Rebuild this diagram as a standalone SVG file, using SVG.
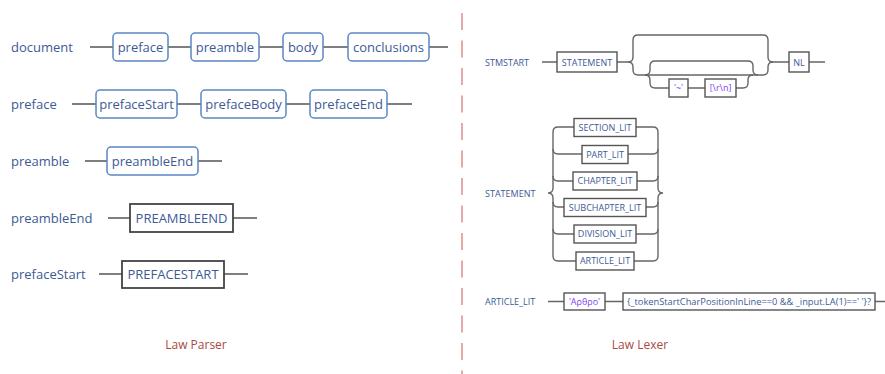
<svg xmlns="http://www.w3.org/2000/svg" width="885" height="374" viewBox="0 0 885 374">
<style>
.bg{fill:#ffffff}
.lbl{font-family:"Open Sans","Liberation Sans",sans-serif;font-size:13px;fill:#3d5a95}
.lbs{font-family:"Open Sans","Liberation Sans",sans-serif;font-size:9px;fill:#3d5a95}
.t{font-family:"Open Sans","Liberation Sans",sans-serif;font-size:13px;fill:#3d5a95;text-anchor:middle}
.ts{font-family:"Open Sans","Liberation Sans",sans-serif;font-size:9px;fill:#3d5a95;text-anchor:middle}
.tp{font-family:"Open Sans","Liberation Sans",sans-serif;font-size:9px;fill:#7a3ff0;text-anchor:middle}
.nt{fill:#ffffff;stroke:#5b87c5;stroke-width:1.5}
.tm{fill:#ffffff;stroke:#444444;stroke-width:1.8}
.tms{fill:#ffffff;stroke:#555555;stroke-width:1.4}
.ln{fill:none;stroke:#555555;stroke-width:1.6}
.lns{fill:none;stroke:#666666;stroke-width:1.4}
.cap{font-family:"Open Sans","Liberation Sans",sans-serif;font-size:12px;fill:#a94a42;text-anchor:middle}
</style>
<rect class="bg" x="0" y="0" width="885" height="374"/>
<line x1="462" y1="13" x2="462" y2="374" stroke="#e08c8c" stroke-width="1.5" stroke-dasharray="17 10.5"/>
<g id="connectors">
  <path class="ln" d="M90,47H113M168,47H191M259,47H283M323,47H348M429,47H448"/>
  <path class="ln" d="M72,104H96M177,104H201M286,104H310M387,104H412"/>
  <path class="ln" d="M85,161H107M198,161H222"/>
  <path class="ln" d="M108,218H130M233,218H257"/>
  <path class="ln" d="M99,274H122M224,274H248"/>
  <path class="lns" d="M542,62H557M617,62H628M789,62H773M809,62H825"/>
  <path class="lns" d="M628,62Q633,62 633,57V40Q633,35 638,35H763Q768,35 768,40V57Q768,62 773,62"/>
  <path class="lns" d="M628,62Q633,62 633,67V70Q633,75 638,75H763Q768,75 768,70V67Q768,62 773,62"/>
  <path class="lns" d="M645,75Q650,75 650,70V66Q650,61 655,61H748Q753,61 753,66V70Q753,75 758,75"/>
  <path class="lns" d="M645,75Q650,75 650,80V83Q650,88 655,88H669M688,88H705M736,88H743Q748,88 748,83V80Q748,75 753,75"/>
  <path class="lns" d="M548,193Q553,193 553,188V132Q553,127 558,127H574M548,193Q553,193 553,198V256Q553,261 558,261H576"/>
  <path class="lns" d="M553,149Q553,154 558,154H582M553,176Q553,181 558,181H573M553,202Q553,207 558,207H564M553,229Q553,234 558,234H574"/>
  <path class="lns" d="M663,193Q658,193 658,188V132Q658,127 653,127H636M663,193Q658,193 658,198V256Q658,261 653,261H634"/>
  <path class="lns" d="M658,149Q658,154 653,154H628M658,176Q658,181 653,181H637M658,202Q658,207 653,207H646M658,229Q658,234 653,234H636"/>
  <path class="lns" d="M548,301.5H564M605,301.5H623M875,301.5H885"/>
</g>
<g id="document">
  <text class="lbl" x="11" y="52">document</text>
  <rect class="nt" x="113" y="33" width="55" height="28" rx="4"/><text class="t" x="140.5" y="52">preface</text>
  <rect class="nt" x="191" y="33" width="68" height="28" rx="4"/><text class="t" x="225" y="52">preamble</text>
  <rect class="nt" x="283" y="33" width="40" height="28" rx="4"/><text class="t" x="303" y="52">body</text>
  <rect class="nt" x="348" y="33" width="81" height="28" rx="4"/><text class="t" x="388.5" y="52">conclusions</text>
</g>
<g id="preface">
  <text class="lbl" x="11" y="109">preface</text>
  <rect class="nt" x="96" y="90" width="81" height="28" rx="4"/><text class="t" x="136.5" y="109">prefaceStart</text>
  <rect class="nt" x="201" y="90" width="85" height="28" rx="4"/><text class="t" x="243.5" y="109">prefaceBody</text>
  <rect class="nt" x="310" y="90" width="77" height="28" rx="4"/><text class="t" x="348.5" y="109">prefaceEnd</text>
</g>
<g id="preamble">
  <text class="lbl" x="11" y="166">preamble</text>
  <rect class="nt" x="107" y="147" width="91" height="28" rx="4"/><text class="t" x="152.5" y="166">preambleEnd</text>
</g>
<g id="preambleEnd">
  <text class="lbl" x="11" y="223">preambleEnd</text>
  <rect class="tm" x="130" y="204" width="103" height="28"/><text class="t" x="181.5" y="223">PREAMBLEEND</text>
</g>
<g id="prefaceStart">
  <text class="lbl" x="11" y="279">prefaceStart</text>
  <rect class="tm" x="122" y="261" width="102" height="27"/><text class="t" x="173" y="279">PREFACESTART</text>
</g>
<g id="stmstart">
  <text class="lbs" x="485" y="65.5">STMSTART</text>
  <rect class="tms" x="557" y="52" width="60" height="20"/><text class="ts" x="587" y="65.5">STATEMENT</text>
  <rect class="tms" x="669" y="79" width="19" height="18"/><text class="tp" x="678.5" y="91">'~'</text>
  <rect class="tms" x="705" y="79" width="31" height="18"/><text class="tp" x="720.5" y="91">[\r\n]</text>
  <rect class="tms" x="789" y="52" width="20" height="20"/><text class="ts" x="799" y="65.5">NL</text>
</g>
<g id="statement">
  <text class="lbs" x="485" y="196.5">STATEMENT</text>
  <rect class="tms" x="574" y="118.5" width="62" height="18"/><text class="ts" x="605" y="130.5">SECTION_LIT</text>
  <rect class="tms" x="582" y="145.5" width="46" height="18"/><text class="ts" x="605" y="157.5">PART_LIT</text>
  <rect class="tms" x="573" y="172" width="64" height="18"/><text class="ts" x="605" y="184">CHAPTER_LIT</text>
  <rect class="tms" x="564" y="198.5" width="82" height="18"/><text class="ts" x="605" y="210.5">SUBCHAPTER_LIT</text>
  <rect class="tms" x="574" y="225" width="62" height="18"/><text class="ts" x="605" y="237">DIVISION_LIT</text>
  <rect class="tms" x="576" y="252" width="58" height="18"/><text class="ts" x="605" y="264">ARTICLE_LIT</text>
</g>
<g id="article_lit">
  <text class="lbs" x="485" y="304.5">ARTICLE_LIT</text>
  <rect class="tms" x="564" y="293" width="41" height="17"/><text class="tp" x="584.5" y="304.5">'Αρθρο'</text>
  <rect class="tms" x="623" y="293" width="252" height="17"/><text class="ts" x="749" y="304.5" textLength="244" lengthAdjust="spacingAndGlyphs">{_tokenStartCharPositionInLine==0 &amp;&amp; _input.LA(1)==' '}?</text>
</g>
<g id="captions">
  <text class="cap" x="196" y="349">Law Parser</text>
  <text class="cap" x="640" y="349">Law Lexer</text>
</g>
</svg>
